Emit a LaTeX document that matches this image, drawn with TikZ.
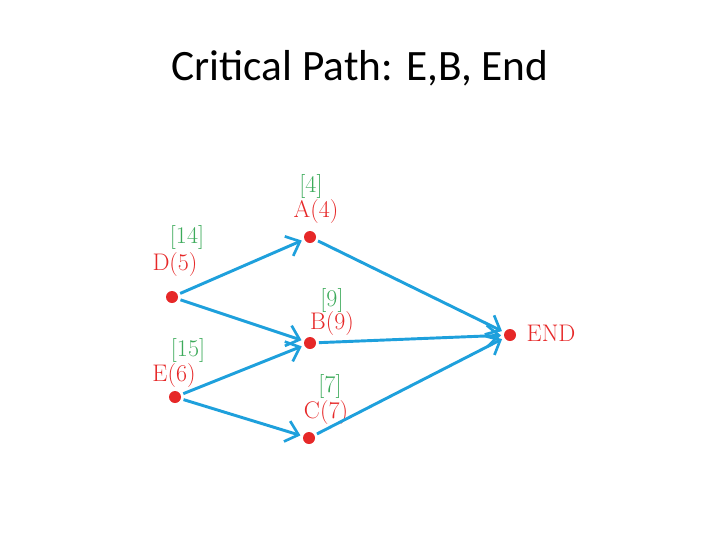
\documentclass[tikz,border=0pt]{standalone}
\usepackage{fontspec}
\newfontfamily\titlefont{Carlito}
\usetikzlibrary{arrows.meta}
\definecolor{arrblue}{RGB}{30,160,220}
\definecolor{dotred}{RGB}{230,40,40}
\definecolor{lblgreen}{RGB}{60,170,90}
\tikzset{
  dot/.style={circle,fill=dotred,inner sep=0pt,minimum size=9pt},
  conn/.style={arrblue,line width=2.2pt,-{Straight Barb[length=9pt,width=16pt,line width=2pt]},shorten >=2pt,shorten <=2pt},
  wt/.style={text=lblgreen,font=\fontsize{18}{18}\selectfont},
  nm/.style={text=dotred,font=\fontsize{18}{18}\selectfont},
}
\begin{document}
\begin{tikzpicture}[x=0.75pt,y=-0.75pt]
\useasboundingbox (0,0) rectangle (720,540);
\node[font=\titlefont\fontsize{32.5}{32.5}\selectfont] (title) at (360,68) {Critical Path: E,B, End};
\node[dot] (D) at (172,297) {};
\node[dot] (A) at (310,237) {};
\node[dot] (B) at (310,343) {};
\node[dot] (E) at (175,397) {};
\node[dot] (C) at (309,438) {};
\node[dot] (END) at (510,335) {};
\node[wt] (wA) at (311,186) {[4]};
\node[nm] (nA) at (316,212) {A(4)};
\node[wt] (wD) at (187,237) {[14]};
\node[nm] (nD) at (175,265) {D(5)};
\node[wt] (wB) at (332,300) {[9]};
\node[nm] (nB) at (332,324) {B(9)};
\node[wt] (wE) at (188,350) {[15]};
\node[nm] (nE) at (174,376) {E(6)};
\node[wt] (wC) at (330,386) {[7]};
\node[nm] (nC) at (326,413) {C(7)};
\node[nm,anchor=west] (nEND) at (522,333) {END};
\draw[conn] (D) -- (A);
\draw[conn] (D) -- (B);
\draw[conn] (E) -- (B);
\draw[conn] (E) -- (C);
\draw[conn] (A) -- (END);
\draw[conn] (B) -- (END);
\draw[conn] (C) -- (END);
\end{tikzpicture}
\end{document}
